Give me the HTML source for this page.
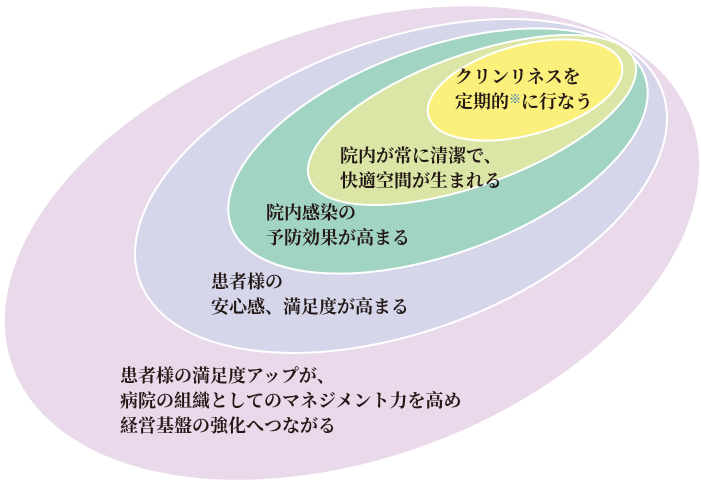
<!DOCTYPE html>
<html><head><meta charset="utf-8"><style>
html,body{margin:0;padding:0;background:#fff;overflow:hidden;width:701px;height:482px;}
svg{display:block}
text{font-family:"Liberation Serif","Noto Serif CJK SC",serif;font-weight:bold;font-size:18px;fill:#231815;}
</style></head><body>
<svg width="701" height="482" viewBox="0 0 701 482">
<g stroke="#fff" stroke-width="2">
<ellipse cx="352" cy="243" rx="362" ry="216" fill="#ead9ea" transform="rotate(-20 352 243)"/>
<ellipse cx="401" cy="186" rx="278" ry="146" fill="#d5d6ea" transform="rotate(-20 401 186)"/>
<ellipse cx="438" cy="151" rx="220" ry="103" fill="#a2d4c3" transform="rotate(-20 438 151)"/>
<ellipse cx="472" cy="120" rx="173" ry="65" fill="#dbe6a6" transform="rotate(-20 472 120)"/>
<ellipse cx="525" cy="90" rx="100" ry="45" fill="#fbf07c" transform="rotate(-15 525 90)"/>
</g>
<text x="455" y="83">クリンリネスを</text>
<text x="455" y="108">定期的<tspan fill="#1a73c8" font-size="12" dy="-5">※</tspan><tspan dy="5">に行なう</tspan></text>
<text x="340" y="162">院内が常に清潔で、</text>
<text x="340" y="187">快適空間が生まれる</text>
<text x="266" y="219">院内感染の</text>
<text x="266" y="244">予防効果が高まる</text>
<text x="211" y="288">患者様の</text>
<text x="211" y="313">安心感、満足度が高まる</text>
<text x="120" y="382">患者様の満足度アップが、</text>
<text x="120" y="407">病院の組織としてのマネジメント力を高め</text>
<text x="120" y="432">経営基盤の強化へつながる</text>
</svg>
</body></html>
